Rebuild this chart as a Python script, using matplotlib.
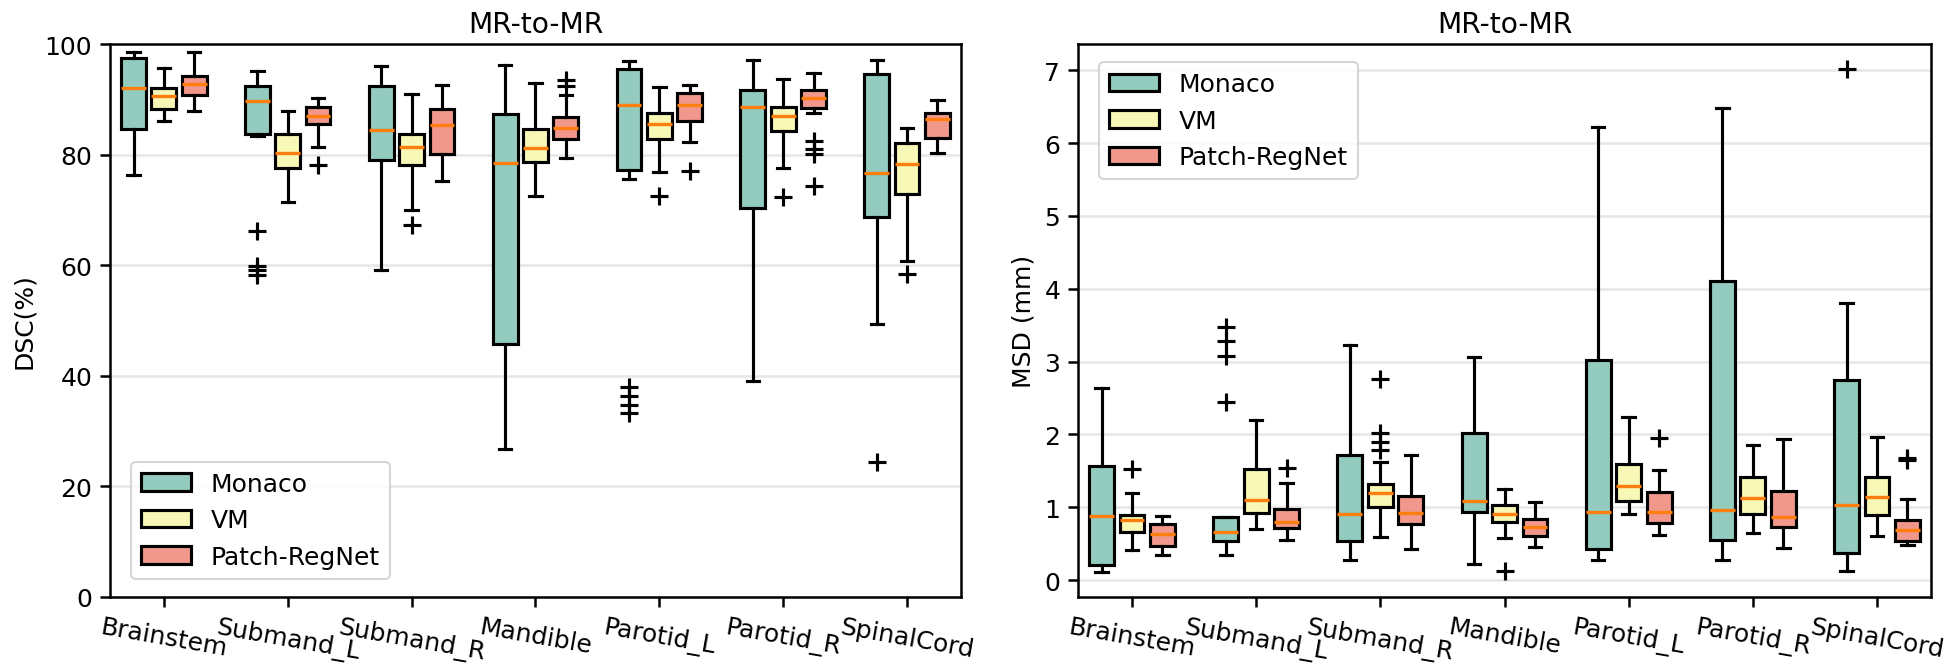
import matplotlib
matplotlib.use("Agg")
import matplotlib.pyplot as plt
from matplotlib.patches import Patch

organs = ["Brainstem", "Submand_L", "Submand_R", "Mandible", "Parotid_L", "Parotid_R", "SpinalCord"]
methods = ["Monaco", "VM", "Patch-RegNet"]
colors = ["#93cbbf", "#f7f7b6", "#f2978b"]

# ---------------- DSC (%) ----------------
dsc_whislo = {
    "Monaco":       [76.3, 83.3, 59.1, 26.8, 75.6, 39.1, 49.4],
    "VM":           [86.1, 71.5, 69.9, 72.6, 76.9, 77.6, 60.8],
    "Patch-RegNet": [87.8, 81.3, 75.2, 79.4, 82.3, 87.6, 80.3],
}
dsc_q1 = {
    "Monaco":       [84.6, 83.7, 79.1, 45.8, 77.2, 70.3, 68.8],
    "VM":           [88.2, 77.5, 78.1, 78.6, 82.8, 84.2, 72.8],
    "Patch-RegNet": [90.8, 85.6, 80.2, 82.8, 86.1, 88.5, 83.0],
}
dsc_med = {
    "Monaco":       [92.0, 89.7, 84.4, 78.4, 89.0, 88.7, 76.6],
    "VM":           [90.6, 80.3, 81.3, 81.2, 85.6, 86.9, 78.3],
    "Patch-RegNet": [92.8, 86.9, 85.4, 84.8, 88.9, 90.3, 86.4],
}
dsc_q3 = {
    "Monaco":       [97.5, 92.5, 92.5, 87.3, 95.5, 91.6, 94.5],
    "VM":           [92.0, 83.8, 83.7, 84.6, 87.6, 88.7, 82.1],
    "Patch-RegNet": [94.2, 88.7, 88.3, 86.8, 91.1, 91.6, 87.5],
}
dsc_whishi = {
    "Monaco":       [98.6, 95.1, 96.1, 96.2, 97.0, 97.2, 97.2],
    "VM":           [95.6, 87.8, 91.0, 92.9, 92.2, 93.7, 84.9],
    "Patch-RegNet": [98.6, 90.2, 92.6, 90.7, 92.6, 94.8, 89.8],
}
dsc_fliers = {
    "Monaco":       [[], [66.1, 59.9, 59.1, 58.3], [], [], [38.0, 36.3, 34.7, 33.2], [], [24.4]],
    "VM":           [[], [], [67.3], [], [72.6], [72.4], [58.4]],
    "Patch-RegNet": [[], [78.1], [], [93.5, 92.4], [77.0], [82.4, 81.1, 80.1, 74.3], []],
}

# ---------------- MSD (mm) ----------------
msd_whislo = {
    "Monaco":       [0.11, 0.35, 0.28, 0.22, 0.28, 0.28, 0.13],
    "VM":           [0.41, 0.70, 0.59, 0.58, 0.91, 0.65, 0.60],
    "Patch-RegNet": [0.34, 0.55, 0.43, 0.45, 0.62, 0.44, 0.48],
}
msd_q1 = {
    "Monaco":       [0.21, 0.53, 0.54, 0.94, 0.42, 0.55, 0.37],
    "VM":           [0.66, 0.92, 1.00, 0.80, 1.08, 0.90, 0.89],
    "Patch-RegNet": [0.47, 0.71, 0.77, 0.61, 0.78, 0.73, 0.53],
}
msd_med = {
    "Monaco":       [0.88, 0.66, 0.90, 1.08, 0.93, 0.96, 1.03],
    "VM":           [0.82, 1.10, 1.19, 0.90, 1.29, 1.13, 1.14],
    "Patch-RegNet": [0.63, 0.79, 0.92, 0.73, 0.94, 0.87, 0.69],
}
msd_q3 = {
    "Monaco":       [1.57, 0.86, 1.71, 2.02, 3.02, 4.11, 2.74],
    "VM":           [0.89, 1.52, 1.32, 1.03, 1.60, 1.41, 1.41],
    "Patch-RegNet": [0.77, 0.98, 1.15, 0.84, 1.21, 1.22, 0.82],
}
msd_whishi = {
    "Monaco":       [2.64, 0.87, 3.23, 3.06, 6.22, 6.48, 3.81],
    "VM":           [1.19, 2.20, 1.62, 1.25, 2.24, 1.85, 1.97],
    "Patch-RegNet": [0.875, 1.33, 1.71, 1.07, 1.51, 1.93, 1.11],
}
msd_fliers = {
    "Monaco":       [[], [2.45, 3.08, 3.28, 3.47], [], [], [], [], [7.02]],
    "VM":           [[1.52], [], [2.76, 2.02, 1.90, 1.78], [0.12], [], [], []],
    "Patch-RegNet": [[], [1.54], [], [], [1.95], [], [1.68, 1.65]],
}

offsets = [-0.245, 0.0, 0.245]
box_w = 0.2


def draw(ax, whislo, q1, med, q3, whishi, fliers):
    for mi, m in enumerate(methods):
        stats = []
        for i in range(len(organs)):
            stats.append(dict(whislo=whislo[m][i], q1=q1[m][i], med=med[m][i],
                              q3=q3[m][i], whishi=whishi[m][i], fliers=fliers[m][i]))
        pos = [i + offsets[mi] for i in range(len(organs))]
        ax.bxp(stats, positions=pos, widths=box_w, patch_artist=True, showfliers=True,
               boxprops=dict(facecolor=colors[mi], edgecolor="black", linewidth=1.5),
               medianprops=dict(color="#ff7f0e", linewidth=1.6),
               whiskerprops=dict(color="black", linewidth=1.5),
               capprops=dict(color="black", linewidth=1.5),
               flierprops=dict(marker="+", markeredgecolor="black", markersize=9,
                               markeredgewidth=1.5, linestyle="none"))
    ax.set_xticks(range(len(organs)))
    ax.set_xticklabels(organs, rotation=-10, ha="center", fontsize=12)
    ax.set_xlim(-0.435, 6.435)
    ax.yaxis.grid(True, color="#e6e6e6", linewidth=1.2)
    ax.set_axisbelow(True)
    ax.tick_params(axis="y", labelsize=12, width=1.2, length=5)
    ax.tick_params(axis="x", width=1.2, length=5)
    for s in ax.spines.values():
        s.set_linewidth(1.2)
    ax.set_title("MR-to-MR", fontsize=13.5)


fig = plt.figure(figsize=(13, 4.4533), dpi=150)
ax1 = fig.add_axes([0.0564, 0.1048, 0.4364, 0.8278])
ax2 = fig.add_axes([0.5528, 0.1048, 0.4375, 0.8278])

draw(ax1, dsc_whislo, dsc_q1, dsc_med, dsc_q3, dsc_whishi, dsc_fliers)
ax1.set_ylim(0, 100)
ax1.set_yticks([0, 20, 40, 60, 80, 100])
ax1.set_ylabel("DSC(%)", fontsize=12)

draw(ax2, msd_whislo, msd_q1, msd_med, msd_q3, msd_whishi, msd_fliers)
ax2.set_ylim(-0.233, 7.36)
ax2.set_yticks(range(0, 8))
ax2.set_ylabel("MSD (mm)", fontsize=12)

handles = [Patch(facecolor=c, edgecolor="black", linewidth=1.5, label=m) for c, m in zip(colors, methods)]
ax1.legend(handles=handles, loc="lower left", fontsize=12, bbox_to_anchor=(0.01, 0.01))
ax2.legend(handles=handles, loc="upper left", fontsize=12, bbox_to_anchor=(0.01, 0.99))

fig.savefig("out.png", dpi=150)
